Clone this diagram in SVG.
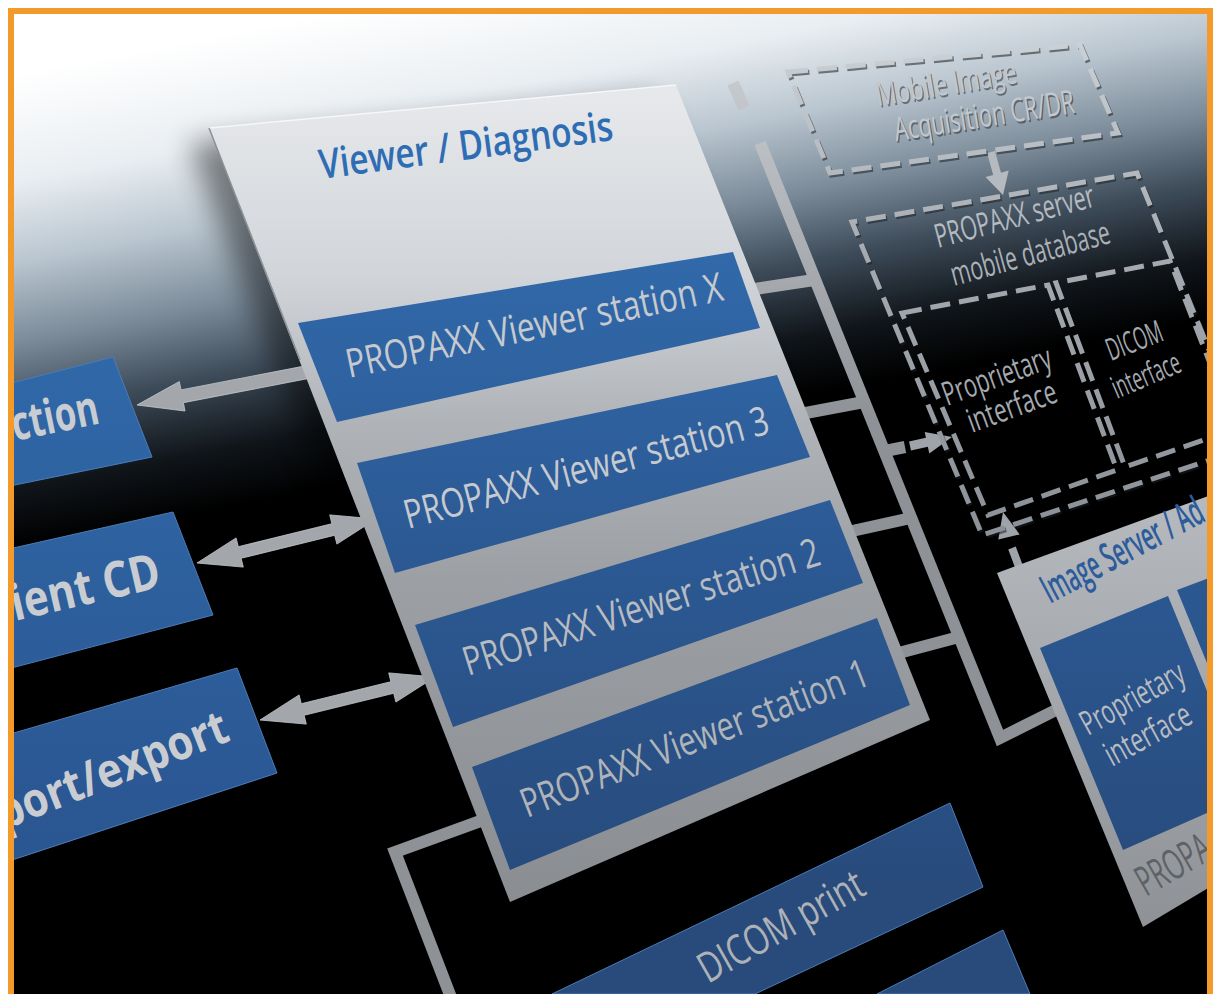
<svg xmlns="http://www.w3.org/2000/svg" width="1213" height="994" viewBox="0 0 1213 994">
<defs>
<linearGradient id="bg" gradientUnits="userSpaceOnUse" x1="500" y1="-20" x2="600" y2="500">
<stop offset="0" stop-color="#ffffff"/><stop offset="0.2" stop-color="#e9eef2"/><stop offset="0.35" stop-color="#bac6d0"/><stop offset="0.5" stop-color="#7b8b99"/><stop offset="0.63" stop-color="#3e4c5a"/><stop offset="0.77" stop-color="#10151a"/><stop offset="0.88" stop-color="#000000"/>
</linearGradient>
<linearGradient id="panelG" gradientUnits="userSpaceOnUse" x1="0" y1="100" x2="0" y2="900">
<stop offset="0" stop-color="#e6e8eb"/><stop offset="0.22" stop-color="#d1d5d9"/><stop offset="0.4" stop-color="#b0b4b8"/><stop offset="0.6" stop-color="#9ca0a4"/><stop offset="1" stop-color="#8a8e92"/>
</linearGradient>
<linearGradient id="barG" gradientUnits="userSpaceOnUse" x1="0" y1="250" x2="0" y2="880">
<stop offset="0" stop-color="#3169aa"/><stop offset="0.45" stop-color="#2c5a95"/><stop offset="1" stop-color="#284b7c"/>
</linearGradient>
<linearGradient id="leftG" gradientUnits="userSpaceOnUse" x1="0" y1="350" x2="0" y2="870">
<stop offset="0" stop-color="#3068a8"/><stop offset="1" stop-color="#2a5590"/>
</linearGradient>
<linearGradient id="srvG" gradientUnits="userSpaceOnUse" x1="0" y1="500" x2="0" y2="930">
<stop offset="0" stop-color="#b6babe"/><stop offset="1" stop-color="#8e9296"/>
</linearGradient>
<linearGradient id="connG" gradientUnits="userSpaceOnUse" x1="0" y1="80" x2="0" y2="420">
<stop offset="0" stop-color="#c6cace"/><stop offset="1" stop-color="#8e9296"/>
</linearGradient>
<linearGradient id="dashG" gradientUnits="userSpaceOnUse" x1="0" y1="40" x2="0" y2="520">
<stop offset="0" stop-color="#ccd1d6"/><stop offset="0.45" stop-color="#a4aab0"/><stop offset="1" stop-color="#8c9298"/>
</linearGradient>
<clipPath id="frame"><rect x="14" y="14" width="1193" height="980"/></clipPath>
<filter id="blur" x="-20%" y="-20%" width="140%" height="140%"><feGaussianBlur stdDeviation="14"/></filter>
<style>
.t{font-family:"Open Sans","Liberation Sans",sans-serif;}
.bartxt{font-size:40px;fill:#c6cacf;font-weight:400;}
.lefttxt{font-size:48px;fill:#c9cdd1;font-weight:700;}
.dtxt{font-size:33px;fill:#c3c8ce;font-weight:400;}
.dsh{font-size:33px;fill:#1c232a;font-weight:400;opacity:0.5;}
.conn{fill:none;stroke:url(#connG);stroke-width:12;stroke-linejoin:miter;}
.dash{fill:none;stroke:url(#dashG);stroke-width:5;stroke-dasharray:20 9;}
.dashsh{fill:none;stroke:#1a2026;stroke-width:5;stroke-dasharray:20 9;opacity:0.55;}
.arrow{fill:#a3a7ab;stroke:#c4c8cc;stroke-width:0.8;}
.dar{fill:#9ea4aa;}
.blue{fill:url(#barG);}
.lbox{fill:url(#leftG);stroke:#4a7cb8;stroke-width:1;}
</style>
</defs>
<rect width="1213" height="994" fill="#ffffff"/>
<g clip-path="url(#frame)">
<rect x="0" y="0" width="1213" height="994" fill="url(#bg)"/>
<polygon points="189,143 656,100 910,735 490,917" fill="#000" opacity="0.45" filter="url(#blur)"/>

<g id="connectors">
<path class="conn" d="M733,83 L744,108"/>
<path class="conn" d="M760,143 L1000,738 L1066,705"/>
<path class="conn" d="M748,290 L814,280"/>
<path class="conn" d="M795,415 L864,402"/>
<path class="conn" d="M843,533 L911,518"/>
<path class="conn" d="M895,654 L959,637"/>
<path class="conn" d="M880,452 L905,447"/>
<path class="conn" d="M497,815 L395,852 L452,1000"/>
<polygon class="arrow" points="311.8,364.6 181.0,389.9 179.3,381.6 137,405 185.0,411.0 183.4,402.7 314.2,377.4"/>
<polygon class="arrow" points="197,563 243.3,567.1 241.1,558.3 334.7,535.3 336.9,544.1 376,519 329.7,514.9 331.9,523.7 238.3,546.7 236.1,537.9"/>
<polygon class="arrow" points="260,720 306.3,724.1 304.1,715.3 393.7,693.3 395.9,702.1 435,677 388.7,672.9 390.9,681.7 301.3,703.7 299.1,694.9"/>
<polygon class="dar" points="987.1,153.1 993.2,174.9 985.5,177.0 1003,195 1008.7,170.6 1001.0,172.7 994.9,150.9" style="fill:#b4bac0"/>
<path d="M910,446 L928,442" stroke="#9ea4aa" stroke-width="9" fill="none"/>
<polygon class="dar" points="929.3,453.6 952,437 924.7,432.0"/>
<polygon class="dar" points="1019.7,534.4 1003,512 998.3,539.6"/>
<path d="M1012,548 L1021,572 M1025,584 L1032,612" stroke="#9ea4aa" stroke-width="8" fill="none"/>
<polygon class="dar" points="1020.3,617.4 1045,640 1041.7,606.6"/>
</g>

<g id="mobile-acquisition">
<path class="dashsh" transform="translate(1.5,2)" d="M788,72 L1080,45 L1118,133 L830,173 Z"/>
<path class="dash" d="M788,72 L1080,45 L1118,133 L830,173 Z"/>
<text class="t dsh" transform="translate(879.5,108) rotate(-9.5)" textLength="142" lengthAdjust="spacingAndGlyphs">Mobile Image</text>
<text class="t dtxt" transform="translate(878,106) rotate(-9.5)" textLength="142" lengthAdjust="spacingAndGlyphs">Mobile Image</text>
<text class="t dsh" transform="translate(897.5,143) rotate(-9)" textLength="182" lengthAdjust="spacingAndGlyphs">Acquisition CR/DR</text>
<text class="t dtxt" transform="translate(896,141) rotate(-9)" textLength="182" lengthAdjust="spacingAndGlyphs">Acquisition CR/DR</text>
</g>

<g id="propaxx-mobile-server">
<path class="dashsh" transform="translate(1.5,2)" d="M1225,455 L982,535 L852,222 L1137,173 L1225,389"/>
<path class="dash" d="M1225,455 L982,535 L852,222 L1137,173 L1225,389"/>
<text class="t dtxt" transform="translate(938,248) rotate(-14.8)" textLength="164" lengthAdjust="spacingAndGlyphs" style="fill:#b4bac0">PROPAXX server</text>
<text class="t dtxt" transform="translate(954,286) rotate(-15.3)" textLength="164" lengthAdjust="spacingAndGlyphs" style="fill:#aab0b6">mobile database</text>
</g>

<g id="proprietary-interface-mobile">
<path class="dash" d="M902,313 L1048,285 L1117,470 L988,515 Z"/>
<text class="t dtxt" transform="translate(947,406) rotate(-20)" textLength="114" lengthAdjust="spacingAndGlyphs" style="fill:#a3a9af">Proprietary</text>
<text class="t dtxt" transform="translate(972,433) rotate(-20)" textLength="93" lengthAdjust="spacingAndGlyphs" style="fill:#a3a9af">interface</text>
</g>

<g id="dicom-interface-mobile">
<path class="dash" d="M1230,431 L1125,467 L1056,283 L1170,261 L1240,440"/>
<text class="t dtxt" transform="translate(1111,361) rotate(-21)" textLength="58" lengthAdjust="spacingAndGlyphs" style="font-size:31px;fill:#a3a9af">DICOM</text>
<text class="t dtxt" transform="translate(1117,399) rotate(-23)" textLength="72" lengthAdjust="spacingAndGlyphs" style="font-size:31px;fill:#a3a9af">interface</text>
</g>

<g id="left-ction">
<polygon class="lbox" points="0,386 113,357 152,457 0,488"/>
<text class="t lefttxt" transform="translate(15,441) rotate(-11.7)" textLength="88" lengthAdjust="spacingAndGlyphs">ction</text>
</g>
<g id="left-patient-cd">
<polygon class="lbox" points="0,551 173,512 213,615 0,671"/>
<text class="t lefttxt" transform="translate(15,621) rotate(-13)" textLength="152" lengthAdjust="spacingAndGlyphs" style="font-size:50px">ient CD</text>
</g>
<g id="left-import-export">
<polygon class="lbox" points="0,737 237,668 277,773 0,864"/>
<text class="t lefttxt" transform="translate(4,830) rotate(-21.5)" textLength="245" lengthAdjust="spacingAndGlyphs">port/export</text>
</g>

<g id="viewer-diagnosis">
<polygon points="209,128 676,85 930,720 510,902" fill="url(#panelG)"/>
<path d="M209,128 L676,85" stroke="#f6f7f8" stroke-width="1.5" fill="none"/>
<path d="M209,128 L300,360" stroke="#8a9096" stroke-width="1.5" fill="none"/>
<text class="t" transform="translate(321,179) rotate(-7.6)" textLength="296" lengthAdjust="spacingAndGlyphs" style="font-size:41px;font-weight:600;fill:#2e6db4">Viewer / Diagnosis</text>
</g>
<g id="station-x">
<polygon class="blue" points="298,323 733,252 760,328 337,422"/>
<text class="t bartxt" transform="translate(349,378) rotate(-11.7)" textLength="384" lengthAdjust="spacingAndGlyphs">PROPAXX Viewer station X</text>
</g>
<g id="station-3">
<polygon class="blue" points="357,463 777,375 810,457 395,573"/>
<text class="t bartxt" transform="translate(408,529) rotate(-14.8)" textLength="376" lengthAdjust="spacingAndGlyphs">PROPAXX Viewer station 3</text>
</g>
<g id="station-2">
<polygon class="blue" points="415,625 830,500 863,583 453,727"/>
<text class="t bartxt" transform="translate(468,676) rotate(-17.5)" textLength="372" lengthAdjust="spacingAndGlyphs" style="fill:#b8bcc1">PROPAXX Viewer station 2</text>
</g>
<g id="station-1">
<polygon class="blue" points="472,767 877,618 910,705 510,870"/>
<text class="t bartxt" transform="translate(527,818) rotate(-21.2)" textLength="370" lengthAdjust="spacingAndGlyphs" style="fill:#b0b4b9">PROPAXX Viewer station 1</text>
</g>

<g id="image-server">
<polygon points="997,573 1230,488 1230,875 1143,927" fill="url(#srvG)"/>
<text class="t" transform="translate(1050,604) rotate(-28)" textLength="178" lengthAdjust="spacingAndGlyphs" style="font-size:40px;font-weight:600;fill:#2c5c9c">Image Server / Ad</text>
<polygon class="blue" points="1040,648 1168,596 1230,747 1230,803 1123,850"/>
<polygon class="blue" points="1177,590 1230,570 1230,719"/>
<text class="t" transform="translate(1088,736) rotate(-29)" textLength="114" lengthAdjust="spacingAndGlyphs" style="font-size:34px;fill:#b8bcc1">Proprietary</text>
<text class="t" transform="translate(1112,767) rotate(-28.5)" textLength="94" lengthAdjust="spacingAndGlyphs" style="font-size:34px;fill:#b8bcc1">interface</text>
<text class="t" transform="translate(1146,897) rotate(-30)" textLength="80" lengthAdjust="spacingAndGlyphs" style="font-size:42px;fill:#5e6266">PROPA</text>
</g>

<g id="dicom-print">
<polygon class="blue" points="552,994 950,803 983,887 755,994" style="stroke:#4a7cb8;stroke-width:1"/>
<text class="t" transform="translate(708,984) rotate(-29.5)" textLength="184" lengthAdjust="spacingAndGlyphs" style="font-size:42px;fill:#aeb2b6">DICOM print</text>
</g>
<g id="bottom-box">
<polygon class="blue" points="877,994 1003,930 1030,994" style="stroke:#4a7cb8;stroke-width:1"/>
</g>
</g>
<rect x="11" y="11" width="1199" height="1000" fill="none" stroke="#f39a2b" stroke-width="6"/>
</svg>
